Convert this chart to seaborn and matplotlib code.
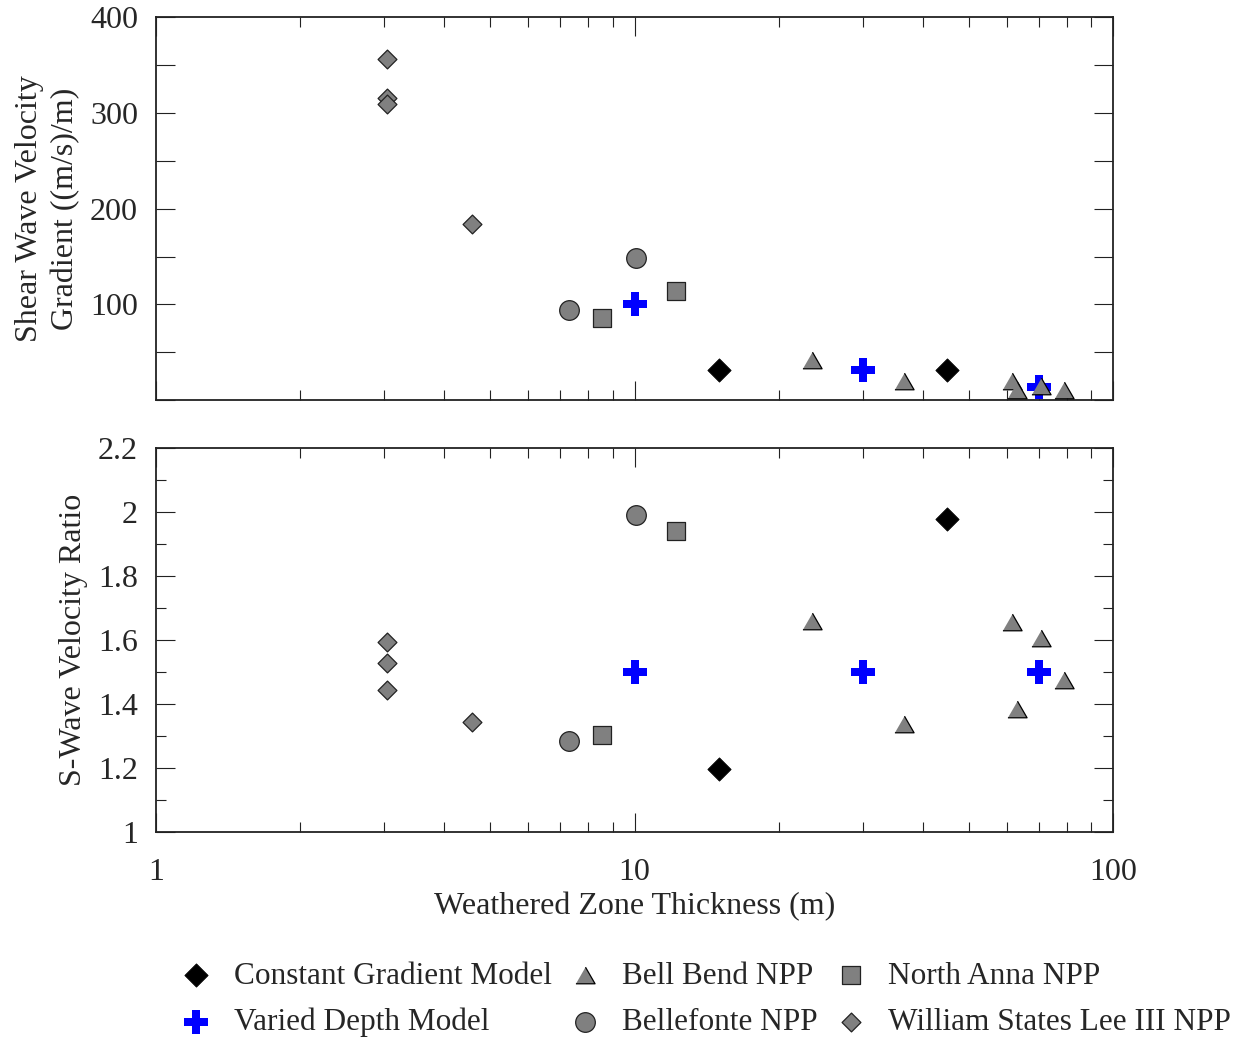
import matplotlib
matplotlib.use("Agg")
import matplotlib.pyplot as plt
import matplotlib.ticker as mticker
import seaborn as sns
import pandas as pd
import numpy as np

# ---------------- data ----------------
constant_thick = [15.0, 45.0]
constant_grad = [31.5, 31.5]
constant_ratio = [1.196, 1.979]

varied_thick = [10.0, 30.0, 70.0]
varied_grad = [100.0, 31.5, 13.6]
varied_ratio = [1.5, 1.5, 1.5]

bellbend_thick = [23.5, 36.6, 61.5, 62.9, 70.6, 79.1]
bellbend_grad = [42.0, 20.0, 20.2, 10.5, 14.6, 10.5]
bellbend_ratio = [1.659, 1.336, 1.657, 1.383, 1.607, 1.475]

bellefonte_thick = [7.31, 10.06]
bellefonte_grad = [94.0, 149.0]
bellefonte_ratio = [1.285, 1.991]

northanna_thick = [8.54, 12.19]
northanna_grad = [85.5, 114.0]
northanna_ratio = [1.304, 1.940]

wsl_thick = [3.04, 3.04, 3.04, 4.57]
wsl_grad = [357.0, 316.0, 309.5, 184.5]
wsl_ratio = [1.594, 1.527, 1.444, 1.344]

labels = ["Constant Gradient Model", "Varied Depth Model", "Bell Bend NPP",
          "Bellefonte NPP", "North Anna NPP", "William States Lee III NPP"]

y_top_ticks = [0, 50, 100, 150, 200, 250, 300, 350, 400]
y_top_labels = ["", "", "100", "", "200", "", "300", "", "400"]
y_bot_ticks = [1.0, 1.2, 1.4, 1.6, 1.8, 2.0, 2.2]
y_bot_labels = ["1", "1.2", "1.4", "1.6", "1.8", "2", "2.2"]
x_ticks = [1, 10, 100]
x_labels = ["1", "10", "100"]

# ---------------- frames ----------------
series = [
    (labels[0], constant_thick, constant_grad, constant_ratio),
    (labels[1], varied_thick, varied_grad, varied_ratio),
    (labels[2], bellbend_thick, bellbend_grad, bellbend_ratio),
    (labels[3], bellefonte_thick, bellefonte_grad, bellefonte_ratio),
    (labels[4], northanna_thick, northanna_grad, northanna_ratio),
    (labels[5], wsl_thick, wsl_grad, wsl_ratio),
]
frames = {name: pd.DataFrame({"thick": t, "grad": g, "ratio": r}) for name, t, g, r in series}

tri = [(-1.0, -0.866), (1.0, -0.866), (0.0, 0.866)]
styles = {
    labels[0]: dict(marker="D", s=140, color="black", edgecolor="black", linewidth=0.6),
    labels[1]: dict(marker="P", s=300, color="#0000ff", edgecolor="#0000ff", linewidth=0.0),
    labels[2]: dict(marker=tri, s=190, color="#808080", edgecolor="black", linewidth=0.9),
    labels[3]: dict(marker="o", s=200, color="#808080", edgecolor="#222222", linewidth=0.9),
    labels[4]: dict(marker="s", s=185, color="#808080", edgecolor="#222222", linewidth=0.9),
    labels[5]: dict(marker="D", s=92, color="#808080", edgecolor="#222222", linewidth=0.9),
}

FS = 23

sns.set_style("ticks")
plt.rcParams["font.family"] = ["Liberation Serif", "DejaVu Serif"]
plt.rcParams["font.size"] = FS

fig = plt.figure(figsize=(12.44, 10.39), dpi=100)
ax1 = fig.add_axes([0.1254, 0.6150, 0.7693, 0.3682])
ax2 = fig.add_axes([0.1254, 0.1995, 0.7693, 0.3690])

for name in labels:
    df = frames[name]
    st = styles[name]
    sns.scatterplot(data=df, x="thick", y="grad", ax=ax1, label=name, zorder=3, **st)
    sns.scatterplot(data=df, x="thick", y="ratio", ax=ax2, legend=False, zorder=3, **st)

for ax in (ax1, ax2):
    ax.set_xscale("log")
    ax.set_xlim(1, 100)
    ax.set_xticks(x_ticks)
    ax.xaxis.set_minor_locator(mticker.LogLocator(base=10, subs=np.arange(2, 10)))
    ax.xaxis.set_minor_formatter(mticker.NullFormatter())
    ax.tick_params(which="both", direction="in", top=True, right=True, color="#222222", width=0.8)
    ax.tick_params(which="major", length=13.5, labelsize=FS)
    ax.tick_params(axis="y", which="major", pad=13)
    ax.tick_params(axis="x", which="major", pad=19)
    ax.tick_params(which="minor", length=7)
    for sp in ax.spines.values():
        sp.set_linewidth(1.3)
        sp.set_color("#222222")
    ax.set_xlabel("")
    ax.set_ylabel("")

ax1.set_xticklabels([])
ax1.set_ylim(0, 400)
ax1.set_yticks(y_top_ticks)
ax1.set_yticklabels(y_top_labels)
ax1.yaxis.set_minor_locator(mticker.NullLocator())

ax2.set_xticklabels(x_labels)
ax2.set_ylim(1.0, 2.2)
ax2.set_yticks(y_bot_ticks)
ax2.set_yticklabels(y_bot_labels)
ax2.yaxis.set_minor_locator(mticker.MultipleLocator(0.1))

ax1.set_ylabel("Shear Wave Velocity\nGradient ((m/s)/m)", fontsize=FS, linespacing=1.32)
ax1.yaxis.set_label_coords(-0.079, 0.5)
ax2.set_ylabel("S-Wave Velocity Ratio", fontsize=FS)
ax2.yaxis.set_label_coords(-0.071, 0.5)
ax2.set_xlabel("Weathered Zone Thickness (m)", fontsize=FS)
ax2.xaxis.set_label_coords(0.5, -0.158)

handles, labs = ax1.get_legend_handles_labels()
ax1.get_legend().remove()
fig.legend(handles, labs, ncol=3, loc="center", bbox_to_anchor=(0.565, 0.038),
           frameon=False, fontsize=22.5, handletextpad=0.5, columnspacing=0.35,
           labelspacing=0.55, handlelength=1.4, borderaxespad=0)

fig.savefig("out.png", dpi=100)
